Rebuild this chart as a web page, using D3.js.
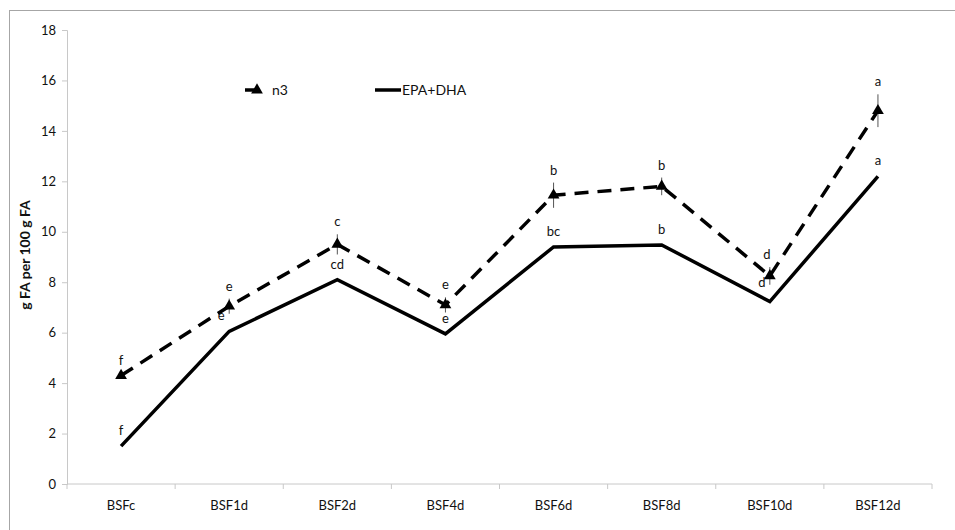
<!DOCTYPE html>
<html>
<head>
<meta charset="utf-8">
<script src="https://cdn.jsdelivr.net/npm/d3@7"></script>
<style>
  body { margin: 0; background: #fff; }
  text { font-family: Lato, "Open Sans", sans-serif; fill: #111; }
</style>
</head>
<body>
<svg id="chart" width="955" height="530"></svg>
<script>
// data
const categories = ["BSFc", "BSF1d", "BSF2d", "BSF4d", "BSF6d", "BSF8d", "BSF10d", "BSF12d"];
const n3 = [4.3, 7.05, 9.5, 7.1, 11.45, 11.8, 8.25, 14.8];
const n3Err = [0.1, 0.3, 0.4, 0.3, 0.5, 0.35, 0.35, 0.65];
const n3Letters = ["f", "e", "c", "e", "b", "b", "d", "a"];
const epaDha = [1.5, 6.05, 8.1, 5.95, 9.4, 9.48, 7.23, 12.2];
const epaLetters = ["f", "e", "cd", "e", "bc", "b", "d", "a"];
const yTicks = [0, 2, 4, 6, 8, 10, 12, 14, 16, 18];

const svg = d3.select("#chart");
const margin = {left: 67, right: 932, top: 30, bottom: 484};

// frame around the chart (only top/left visible)
svg.append("rect")
    .attr("x", 9.5).attr("y", 10.5)
    .attr("width", 1000).attr("height", 1000)
    .attr("fill", "none")
    .attr("stroke", "#a6a6a6")
    .attr("stroke-width", 1);

const x = d3.scaleBand().domain(categories).range([margin.left, margin.right]);
const y = d3.scaleLinear().domain([0, 18]).range([margin.bottom, margin.top]);
const cx = d => x(d) + x.bandwidth() / 2;

// y axis
const yAxis = svg.append("g")
    .attr("transform", "translate(" + margin.left + ",0)")
    .call(d3.axisLeft(y).tickValues(yTicks).tickSize(5).tickPadding(6));
yAxis.select(".domain").attr("stroke", "#c8c8c8");
yAxis.selectAll(".tick line").attr("stroke", "#c8c8c8");
yAxis.selectAll("text").style("font-size", "13px").style("font-family", "Lato, sans-serif").attr("fill", "#111");

// x axis with ticks between categories
const xAxis = svg.append("g")
    .attr("transform", "translate(0," + margin.bottom + ")");
xAxis.append("line")
    .attr("x1", margin.left).attr("x2", margin.right)
    .attr("stroke", "#c8c8c8");
xAxis.selectAll(".sep")
    .data(categories.concat(["end"]))
    .enter().append("line")
    .attr("x1", (d, i) => margin.left + i * x.bandwidth())
    .attr("x2", (d, i) => margin.left + i * x.bandwidth())
    .attr("y1", 0).attr("y2", 5)
    .attr("stroke", "#c8c8c8");
xAxis.selectAll(".lab")
    .data(categories)
    .enter().append("text")
    .attr("x", d => cx(d))
    .attr("y", 26)
    .attr("text-anchor", "middle")
    .style("font-size", "13px")
    .text(d => d);

// y axis title
svg.append("text")
    .attr("transform", "translate(30,255) rotate(-90)")
    .attr("text-anchor", "middle")
    .style("font-size", "14px")
    .style("font-weight", "bold")
    .text("g FA per 100 g FA");

const line = d3.line()
    .x((d, i) => cx(categories[i]))
    .y(d => y(d));

// EPA+DHA solid line
svg.append("path")
    .datum(epaDha)
    .attr("d", line)
    .attr("fill", "none")
    .attr("stroke", "#000")
    .attr("stroke-width", 3.5)
    .attr("stroke-linejoin", "miter");

// n3 dashed line
svg.append("path")
    .datum(n3)
    .attr("d", line)
    .attr("fill", "none")
    .attr("stroke", "#000")
    .attr("stroke-width", 3.5)
    .attr("stroke-dasharray", "14,9");

// error bars for n3
svg.selectAll(".err")
    .data(n3)
    .enter().append("line")
    .attr("x1", (d, i) => cx(categories[i]))
    .attr("x2", (d, i) => cx(categories[i]))
    .attr("y1", (d, i) => y(d + n3Err[i]))
    .attr("y2", (d, i) => y(d - n3Err[i]))
    .attr("stroke", "#555")
    .attr("stroke-width", 1);

// triangle markers
const tri = d3.symbol().type(d3.symbolTriangle).size(60);
svg.selectAll(".mark")
    .data(n3)
    .enter().append("path")
    .attr("d", tri)
    .attr("transform", (d, i) => "translate(" + cx(categories[i]) + "," + y(d) + ")")
    .attr("fill", "#000");

// letters
svg.selectAll(".n3lab")
    .data(n3)
    .enter().append("text")
    .attr("x", (d, i) => cx(categories[i]) - (i === 6 ? 3 : 0))
    .attr("y", (d, i) => y(d + n3Err[i]) - 8)
    .attr("text-anchor", "middle")
    .style("font-size", "13px")
    .text((d, i) => n3Letters[i]);

svg.selectAll(".epalab")
    .data(epaDha)
    .enter().append("text")
    .attr("x", (d, i) => cx(categories[i]) - (i === 1 || i === 6 ? 8 : 0))
    .attr("y", (d, i) => y(d) - (i === 6 ? 15 : 11))
    .attr("text-anchor", "middle")
    .style("font-size", "13px")
    .text((d, i) => epaLetters[i]);

// legend
const legend = svg.append("g");
legend.append("line")
    .attr("x1", 245).attr("x2", 256).attr("y1", 90).attr("y2", 90)
    .attr("stroke", "#000").attr("stroke-width", 3.5);
legend.append("path")
    .attr("d", tri)
    .attr("transform", "translate(257,90)")
    .attr("fill", "#000");
legend.append("text")
    .attr("x", 272).attr("y", 95)
    .style("font-size", "14px")
    .text("n3");
legend.append("line")
    .attr("x1", 375).attr("x2", 401).attr("y1", 90).attr("y2", 90)
    .attr("stroke", "#000").attr("stroke-width", 3.5);
legend.append("text")
    .attr("x", 402).attr("y", 95)
    .style("font-size", "14px")
    .text("EPA+DHA");
</script>
</body>
</html>
